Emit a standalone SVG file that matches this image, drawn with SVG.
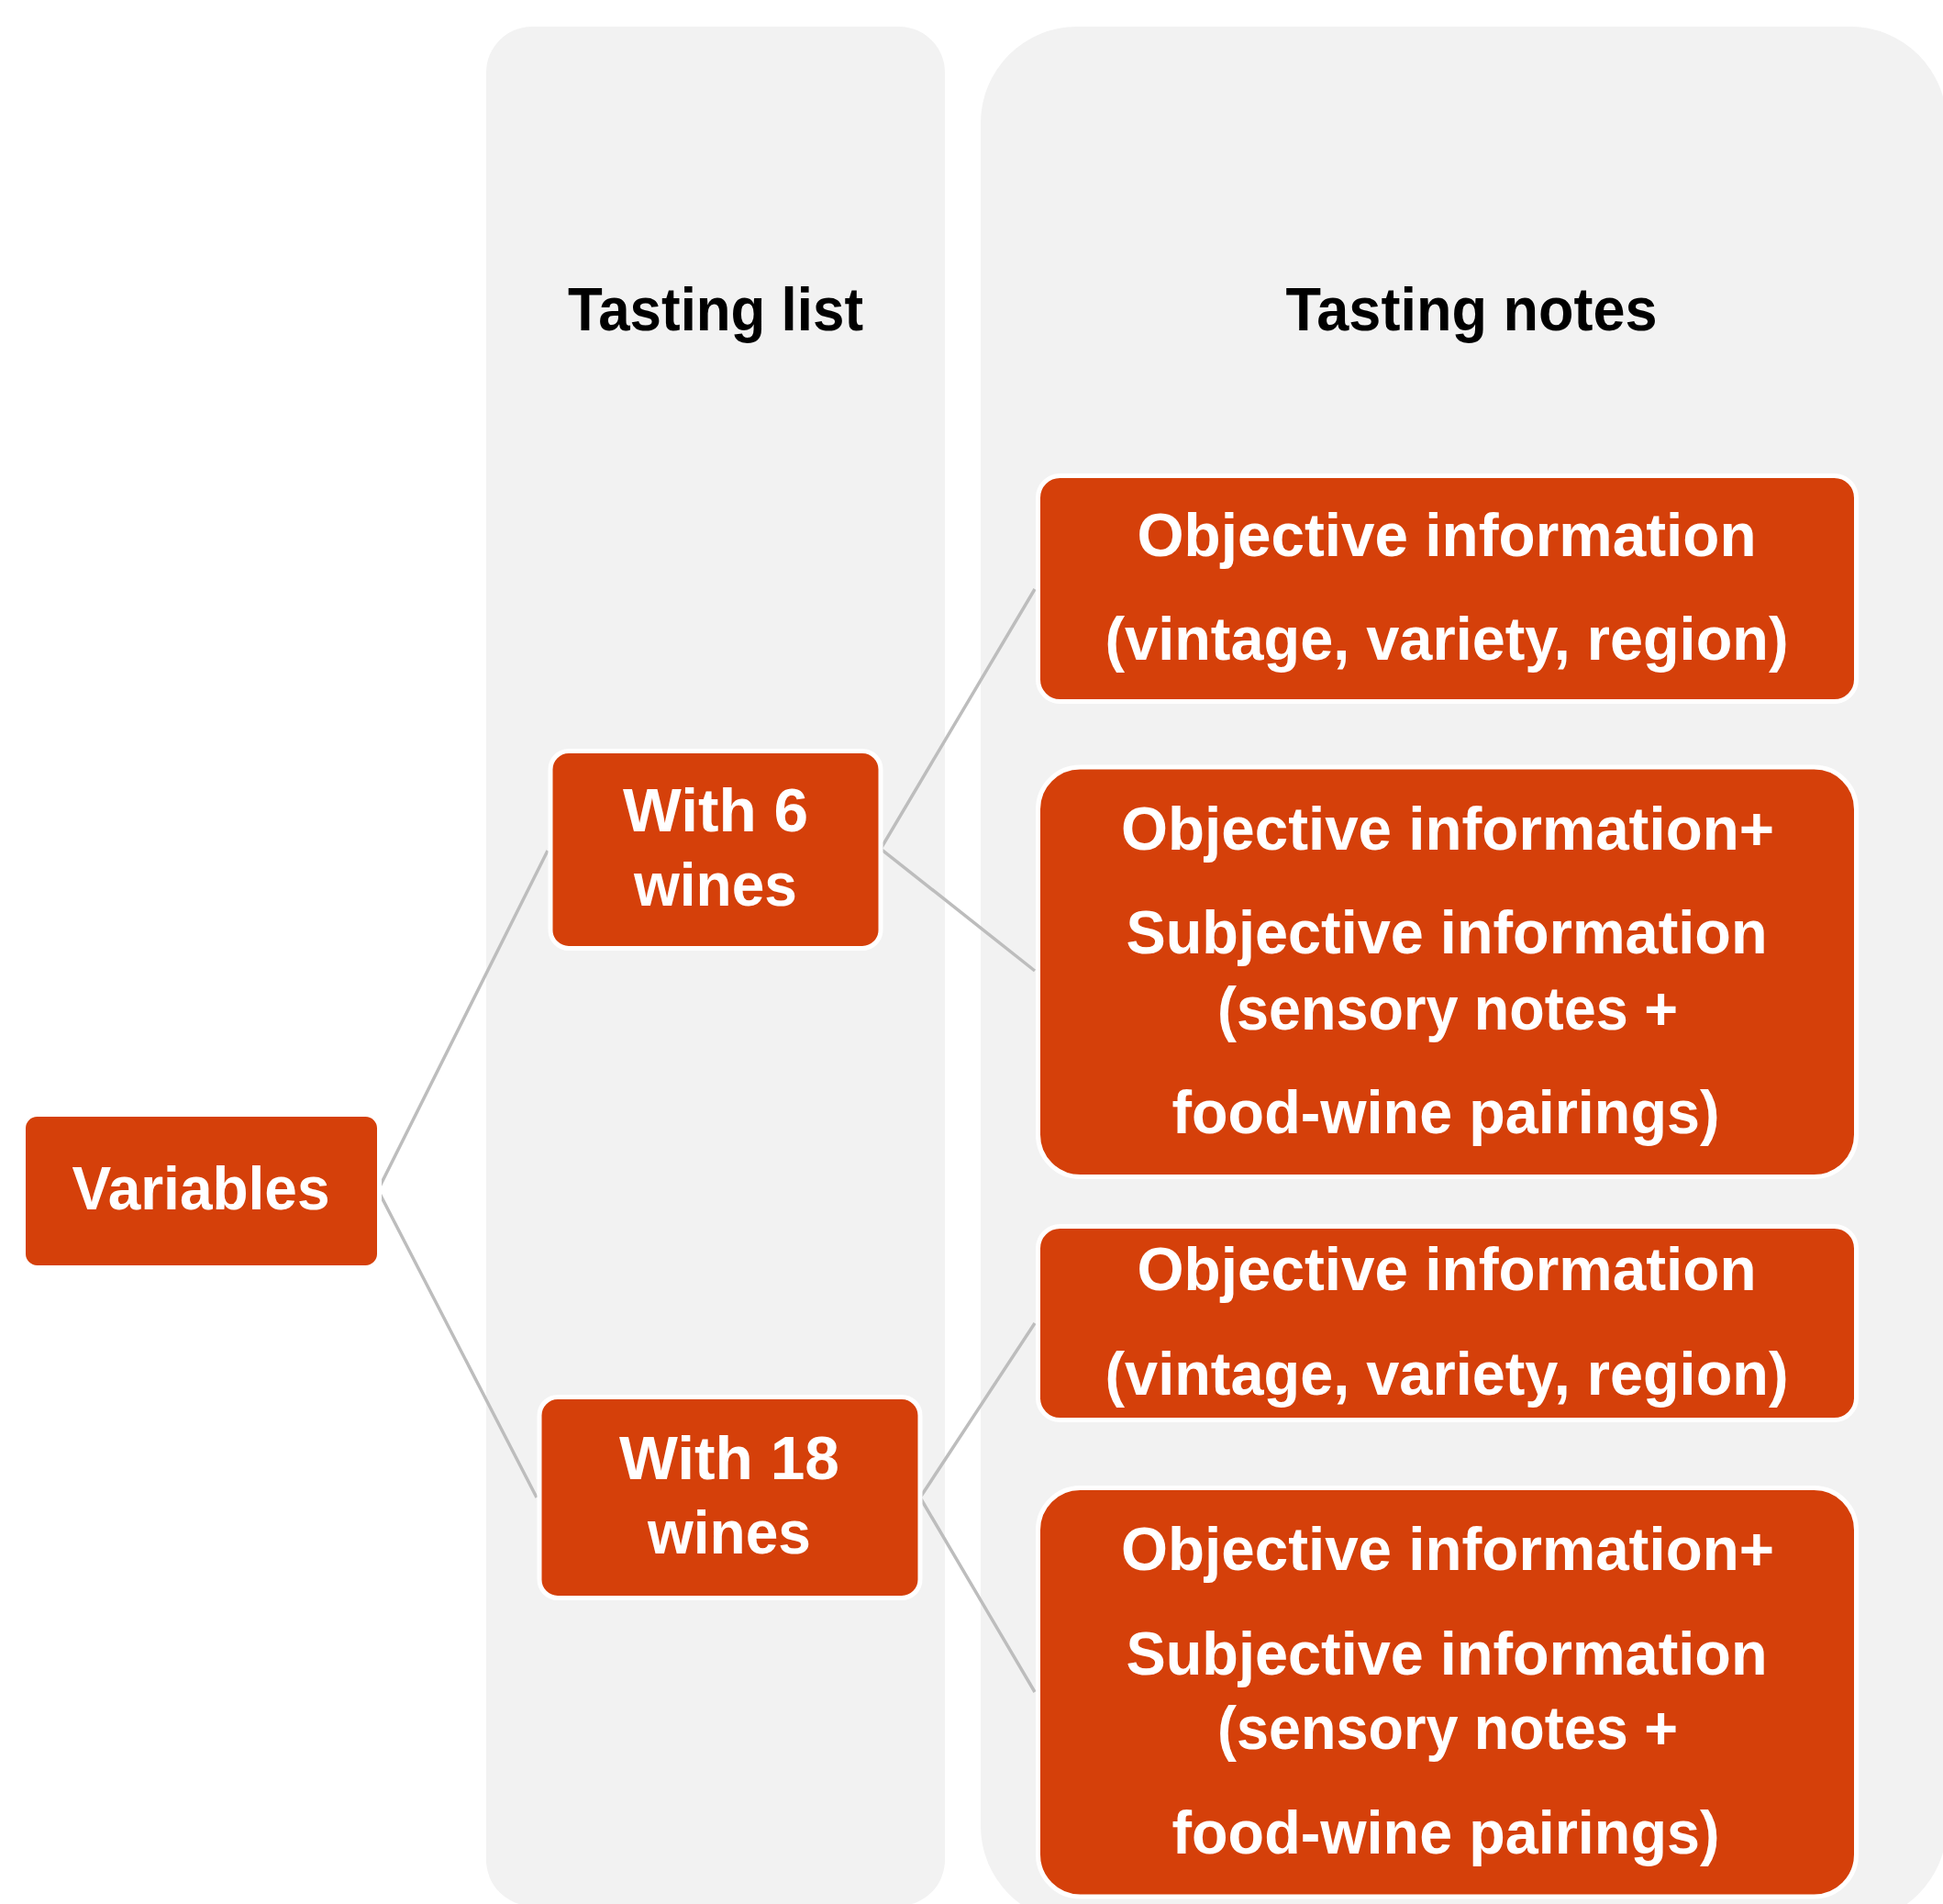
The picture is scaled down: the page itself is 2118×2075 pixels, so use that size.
<svg xmlns="http://www.w3.org/2000/svg" width="2118" height="2075" viewBox="0 0 2118 2075">
<style>
.panel{fill:#F2F2F2;}
.node{fill:#D5400A;stroke:#FFFFFF;stroke-width:5;}
.lbl{font-family:"Liberation Sans",Arial,sans-serif;font-weight:bold;font-size:66px;fill:#FFFFFF;text-anchor:middle;}
.hdr{font-family:"Liberation Sans",Arial,sans-serif;font-weight:bold;font-size:66px;fill:#000000;text-anchor:middle;}
.conn{fill:none;stroke:#BDBDBD;stroke-width:3.5;}
</style>
<rect width="2118" height="2075" fill="#FFFFFF"/>
<g id="panels">
<rect id="panel-list" class="panel" x="530" y="29" width="500" height="2048" rx="50" ry="50"/>
<rect id="panel-notes" class="panel" x="1069" y="29" width="1053" height="2066" rx="105" ry="105"/>
<text class="hdr" x="780" y="360" textLength="322" lengthAdjust="spacingAndGlyphs">Tasting list</text>
<text class="hdr" x="1604" y="360" textLength="405" lengthAdjust="spacingAndGlyphs">Tasting notes</text>
</g>
<g id="connectors">
<polyline class="conn" points="597,927 412,1297 585,1632"/>
<polyline class="conn" points="1128,642 960,925 1128,1058"/>
<polyline class="conn" points="1128,1442 1003,1632 1128,1844"/>
</g>
<g id="node-variables">
<rect class="node" x="25.5" y="1214.5" width="388" height="167" rx="15"/>
<text class="lbl" x="219" y="1318" textLength="281" lengthAdjust="spacingAndGlyphs">Variables</text>
</g>
<g id="node-with6">
<rect class="node" x="600" y="818.5" width="360" height="215" rx="20"/>
<text class="lbl" x="780" y="906" textLength="202" lengthAdjust="spacingAndGlyphs">With 6</text>
<text class="lbl" x="780" y="987" textLength="178" lengthAdjust="spacingAndGlyphs">wines</text>
</g>
<g id="node-with18">
<rect class="node" x="588" y="1522.5" width="415" height="219" rx="20"/>
<text class="lbl" x="795" y="1612" textLength="240" lengthAdjust="spacingAndGlyphs">With 18</text>
<text class="lbl" x="795" y="1693" textLength="178" lengthAdjust="spacingAndGlyphs">wines</text>
</g>
<g id="node-obj1">
<rect class="node" x="1131.5" y="518.5" width="892" height="246" rx="24"/>
<text class="lbl" x="1577" y="606" textLength="675" lengthAdjust="spacingAndGlyphs">Objective information</text>
<text class="lbl" x="1577" y="719" textLength="745" lengthAdjust="spacingAndGlyphs">(vintage, variety, region)</text>
</g>
<g id="node-objsubj1">
<rect class="node" x="1131.5" y="836" width="892" height="446.5" rx="46"/>
<text class="lbl" x="1578" y="926" textLength="712" lengthAdjust="spacingAndGlyphs">Objective information+</text>
<text class="lbl" x="1577" y="1039" textLength="699" lengthAdjust="spacingAndGlyphs">Subjective information</text>
<text class="lbl" x="1578" y="1122" textLength="502" lengthAdjust="spacingAndGlyphs">(sensory notes +</text>
<text class="lbl" x="1576" y="1235" textLength="597" lengthAdjust="spacingAndGlyphs">food-wine pairings)</text>
</g>
<g id="node-obj2">
<rect class="node" x="1131.5" y="1336.5" width="892" height="211" rx="24"/>
<text class="lbl" x="1577" y="1406" textLength="675" lengthAdjust="spacingAndGlyphs">Objective information</text>
<text class="lbl" x="1577" y="1520" textLength="745" lengthAdjust="spacingAndGlyphs">(vintage, variety, region)</text>
</g>
<g id="node-objsubj2">
<rect class="node" x="1131.5" y="1621.5" width="892" height="445.5" rx="46"/>
<text class="lbl" x="1578" y="1711" textLength="712" lengthAdjust="spacingAndGlyphs">Objective information+</text>
<text class="lbl" x="1577" y="1825" textLength="699" lengthAdjust="spacingAndGlyphs">Subjective information</text>
<text class="lbl" x="1578" y="1906" textLength="502" lengthAdjust="spacingAndGlyphs">(sensory notes +</text>
<text class="lbl" x="1576" y="2020" textLength="597" lengthAdjust="spacingAndGlyphs">food-wine pairings)</text>
</g>
</svg>
